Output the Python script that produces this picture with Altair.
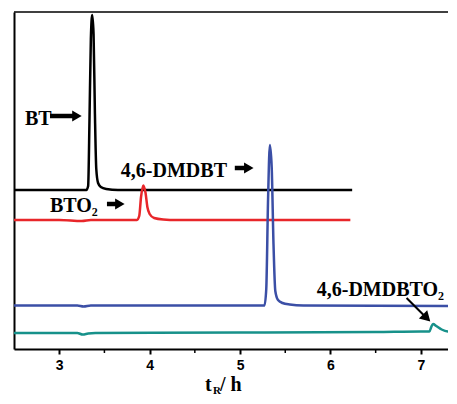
import altair as alt
import pandas as pd

# ---- data (x: retention time t_R in h, y: detector signal, arbitrary units) ----
bt_t = [2.5, 3.30, 3.32, 3.335, 3.35, 3.365, 3.38, 3.395, 3.41, 3.43, 3.46, 3.52, 3.65, 6.24]
bt_y = [159, 159, 163, 230, 310, 334, 315, 235, 180, 166, 162, 160, 159, 159]

bto2_t = [2.5, 3.0, 3.25, 3.35, 3.86, 3.885, 3.905, 3.93, 3.955, 3.975, 4.0, 4.05, 4.15, 4.3, 6.22]
bto2_y = [129, 129, 128, 129, 129, 133, 152, 163.5, 156, 142, 135, 131, 129.5, 129, 129]

dmdbt_t = [2.5, 3.2, 3.27, 3.35, 5.27, 5.29, 5.31, 5.33, 5.35, 5.37, 5.39, 5.42, 5.47, 5.55, 5.7, 7.4]
dmdbt_y = [43.5, 43.5, 42.5, 43.5, 43.5, 60, 150, 204, 182, 105, 58, 49, 46, 44.5, 43.5, 43]

dmdbto2_t = [2.5, 3.2, 3.26, 3.32, 3.4, 5.0, 6.5, 7.0, 7.095, 7.115, 7.135, 7.17, 7.23, 7.3, 7.4]
dmdbto2_y = [16, 16, 14.5, 15.5, 16, 16.5, 17, 17.5, 17.5, 22, 25, 23, 19.5, 17.5, 17]

series_names = ["BT", "BTO2", "4,6-DMDBT", "4,6-DMDBTO2"]
series_colors = ["#000000", "#e8262a", "#3b4fa6", "#17918a"]

x_ticks = [3, 4, 5, 6, 7]
minor_ticks = [3.5, 4.5, 5.5, 6.5]

label_text = ["BT", "BTO\u2082", "4,6-DMDBT", "4,6-DMDBTO\u2082"]
label_t = [2.622, 2.898, 3.682, 5.848]
label_y = [224, 137, 172, 53]

# horizontal arrows: shaft start, shaft end, head position, level
harrow_t1 = [2.898, 3.528, 4.942]
harrow_t2 = [3.163, 3.638, 5.063]
harrow_head = [3.196, 3.671, 5.097]
harrow_y = [233, 145, 181]

# diagonal arrow (4,6-DMDBTO2)
darrow_t1 = [6.842]
darrow_y1 = [51]
darrow_t2 = [7.030]
darrow_y2 = [34]
darrow_head_t = [7.064]
darrow_head_y = [31]

# ---- tables ----
rows = []
for name, ts, ys in zip(series_names, [bt_t, bto2_t, dmdbt_t, dmdbto2_t],
                        [bt_y, bto2_y, dmdbt_y, dmdbto2_y]):
    for i, (t, y) in enumerate(zip(ts, ys)):
        rows.append({"series": name, "t": t, "y": y, "o": i})
df = pd.DataFrame(rows)

W, H = 434, 337
xs = alt.Scale(domain=[2.5, 7.3], nice=False, zero=False)
ys_ = alt.Scale(domain=[0, 337], nice=False, zero=False)

lines = alt.Chart(df).mark_line(strokeWidth=2.5, clip=True, interpolate="monotone").encode(
    x=alt.X("t:Q", scale=xs,
            axis=alt.Axis(values=x_ticks, format="d", title=None, grid=False,
                          tickSize=5, tickWidth=2, tickColor="black",
                          domainWidth=2, domainColor="black",
                          labelFont="Liberation Sans", labelFontSize=14,
                          labelFontWeight="bold", labelColor="black", labelPadding=4)),
    y=alt.Y("y:Q", scale=ys_,
            axis=alt.Axis(labels=False, ticks=False, grid=False, title=None,
                          domainWidth=2, domainColor="black")),
    color=alt.Color("series:N", scale=alt.Scale(domain=series_names, range=series_colors),
                    legend=None),
    order="o:Q",
)

top_frame = alt.Chart(pd.DataFrame({"a": [0]})).mark_rule(color="black", strokeWidth=1.5).encode(
    x=alt.value(0), x2=alt.value(W), y=alt.value(0)
)

minor = alt.Chart(pd.DataFrame({"t": minor_ticks})).mark_rule(
    color="black", strokeWidth=1.5, clip=False).encode(
    x=alt.X("t:Q", scale=xs), y=alt.value(H + 1), y2=alt.value(H + 4)
)

labels = alt.Chart(pd.DataFrame({"text": label_text, "t": label_t, "y": label_y})).mark_text(
    font="Liberation Serif", fontWeight="bold", fontSize=20, align="left",
    baseline="alphabetic", color="black").encode(
    x=alt.X("t:Q", scale=xs), y=alt.Y("y:Q", scale=ys_), text="text:N"
)

hdf = pd.DataFrame({"t1": harrow_t1, "t2": harrow_t2, "th": harrow_head, "y": harrow_y})
hshaft = alt.Chart(hdf).mark_rule(color="black", strokeWidth=4.5).encode(
    x=alt.X("t1:Q", scale=xs), x2="t2:Q", y=alt.Y("y:Q", scale=ys_)
)
hhead = alt.Chart(hdf).mark_point(shape="triangle-right", filled=True, color="black",
                                  size=120, opacity=1).encode(
    x=alt.X("th:Q", scale=xs), y=alt.Y("y:Q", scale=ys_)
)

ddf = pd.DataFrame({"t1": darrow_t1, "y1": darrow_y1, "t2": darrow_t2, "y2": darrow_y2,
                    "th": darrow_head_t, "yh": darrow_head_y})
dshaft = alt.Chart(ddf).mark_rule(color="black", strokeWidth=2).encode(
    x=alt.X("t1:Q", scale=xs), x2="t2:Q", y=alt.Y("y1:Q", scale=ys_), y2="y2:Q"
)
dhead = alt.Chart(ddf).mark_point(shape="triangle-right", filled=True, color="black",
                                  size=140, angle=45, opacity=1).encode(
    x=alt.X("th:Q", scale=xs), y=alt.Y("yh:Q", scale=ys_)
)

t_main = alt.Chart(pd.DataFrame({"s": ["t"]})).mark_text(
    font="Liberation Serif", fontWeight="bold", fontSize=20, align="left",
    baseline="alphabetic", color="black").encode(
    x=alt.value(191), y=alt.value(379), text="s:N")
t_sub = alt.Chart(pd.DataFrame({"s": ["R"]})).mark_text(
    font="Liberation Serif", fontWeight="bold", fontSize=11, align="left",
    baseline="alphabetic", color="black").encode(
    x=alt.value(199), y=alt.value(382), text="s:N")
t_rest = alt.Chart(pd.DataFrame({"s": ["/ h"]})).mark_text(
    font="Liberation Serif", fontWeight="bold", fontSize=20, align="left",
    baseline="alphabetic", color="black").encode(
    x=alt.value(206), y=alt.value(379), text="s:N")

chart = alt.layer(lines, top_frame, minor, labels, hshaft, hhead, dshaft, dhead,
                  t_main, t_sub, t_rest).properties(
    width=W, height=H,
    autosize=alt.AutoSizeParams(type="none"),
    padding={"left": 6, "top": 4, "right": 0, "bottom": 47},
    background="white",
).configure_view(stroke=None)

chart.save("out.html", embed_options={"renderer": "svg", "actions": False})
